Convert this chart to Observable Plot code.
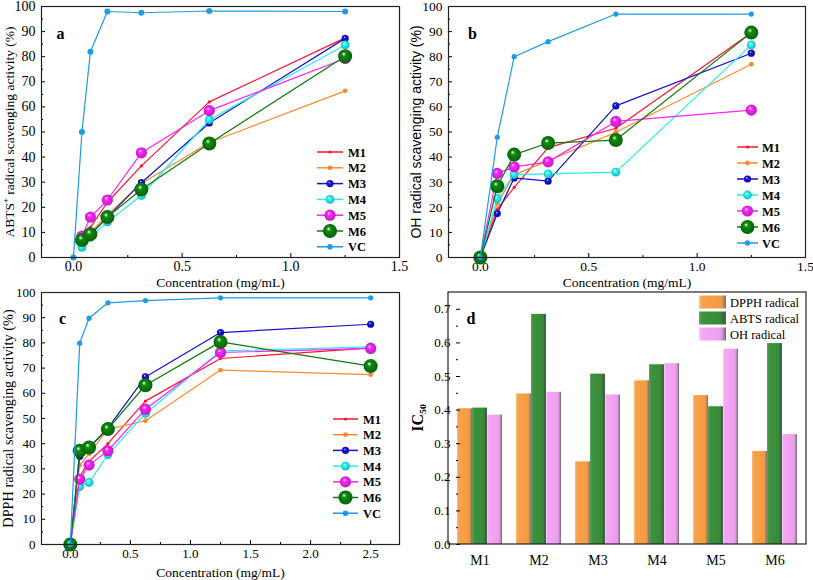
<!DOCTYPE html>
<html><head><meta charset="utf-8">
<script src="https://cdn.jsdelivr.net/npm/d3@7"></script>
<script src="https://cdn.jsdelivr.net/npm/@observablehq/plot@0.6"></script>
<style>
body{margin:0;background:#fff;}
#root{position:relative;width:813px;height:580px;overflow:hidden;background:#fff;}
.panel{position:absolute;}
</style></head><body>
<svg width="0" height="0" style="position:absolute"><defs id="defs"></defs></svg>
<div id="root"></div>
<script>
const serif = "'Liberation Serif', 'Times New Roman', serif";
const sans = "'Liberation Sans', Arial, sans-serif";

const seriesNames = ["M1","M2","M3","M4","M5","M6","VC"];

// Panel a: ABTS
const abtsConc = [0.039, 0.078, 0.156, 0.3125, 0.625, 1.25];
const abtsVcConc = [0, 0.039, 0.078, 0.156, 0.3125, 0.625, 1.25];
const abtsM1 = [10, 12, 22, 36.5, 62, 87.5];
const abtsM2 = [6, 10, 17, 29.5, 45.8, 66.4];
const abtsM3 = [5.5, 9, 16, 29.8, 53.6, 87.3];
const abtsM4 = [4, 8, 14.2, 24.7, 54.9, 84.7];
const abtsM5 = [8.5, 16.1, 22.9, 41.7, 58.5, 79.3];
const abtsM6 = [7, 9.3, 16.1, 27.1, 45.4, 80.2];
const abtsVC = [0, 50, 82, 98, 97.5, 98.2, 98];

// Panel b: OH
const ohConc = [0, 0.078, 0.156, 0.3125, 0.625, 1.25];
const ohM1 = [0, 19.3, 27.9, 43.8, 51.5, 89.5];
const ohM2 = [0, 21.5, 33, 38.5, 49.9, 77];
const ohM3 = [0, 17.5, 31.7, 30.4, 60.4, 81.4];
const ohM4 = [0, 23.5, 33.1, 33.3, 34, 84.7];
const ohM5 = [0, 33.5, 36.1, 38.1, 54.2, 58.7];
const ohM6 = [0, 28.4, 41, 45.6, 46.8, 89.6];
const ohVC = [0, 47.9, 80, 86, 97, 97];

// Panel c: DPPH
const dpphConc = [0, 0.078, 0.156, 0.3125, 0.625, 1.25, 2.5];
const dpphM1 = [0, 27, 33, 40, 56.9, 73.8, 78];
const dpphM2 = [0, 31.5, 36, 45.8, 49.1, 69.2, 67.4];
const dpphM3 = [0, 35, 38.5, 46.2, 66.5, 84.1, 87.4];
const dpphM4 = [0, 23, 24.6, 35.7, 52, 76.8, 78.4];
const dpphM5 = [0, 25.9, 31.5, 37.2, 53.7, 76.2, 77.8];
const dpphM6 = [0, 37.2, 38.5, 45.8, 63.2, 80.4, 70.8];
const dpphVC = [0, 79.9, 89.8, 95.9, 96.8, 97.9, 97.9];

// Panel d: IC50
const samples = ["M1","M2","M3","M4","M5","M6"];
const radicals = ["DPPH radical","ABTS radical","OH radical"];
const icDPPH = [0.404, 0.448, 0.246, 0.487, 0.443, 0.277];
const icABTS = [0.406, 0.685, 0.507, 0.535, 0.41, 0.598];
const icOH = [0.385, 0.453, 0.445, 0.538, 0.581, 0.327];

const style = {
  M1: {color:"#ff1430", r:1.6, sphere:false},
  M2: {color:"#ff8a30", r:2.4, sphere:false},
  M3: {color:"#1212c8", r:3.6, sphere:true},
  M4: {color:"#22eeee", r:4.4, sphere:true},
  M5: {color:"#ff22ff", r:5.6, sphere:true},
  M6: {color:"#0c7a0c", r:7, sphere:true},
  VC: {color:"#1e9be8", r:2.8, sphere:false}
};
const barStyle = {
  "DPPH radical": ["#fdc27a","#f7a24c","#f59a40","#c9895a","#707070"],
  "ABTS radical": ["#62aa62","#3e913e","#388a38","#33683f","#5a5a5a"],
  "OH radical":   ["#fbc8fb","#f3a8f3","#ef9def","#b48cb4","#6a6a6a"]
};

// gradients
const defs = d3.select("#defs");
for (const n of seriesNames) {
  const c = style[n].color;
  const g = defs.append("radialGradient").attr("id","sph-"+n)
    .attr("cx","50%").attr("cy","50%").attr("r","55%").attr("fx","38%").attr("fy","32%");
  g.append("stop").attr("offset","0%").attr("stop-color","#ffffff");
  g.append("stop").attr("offset","28%").attr("stop-color", d3.color(c).brighter(0.4).formatHex());
  g.append("stop").attr("offset","100%").attr("stop-color", d3.color(c).darker(0.9).formatHex());
}
radicals.forEach((r,i)=>{
  const s = barStyle[r];
  const g = defs.append("linearGradient").attr("id","bar"+i).attr("x1","0%").attr("x2","100%").attr("y1","0%").attr("y2","0%");
  [[0,s[0]],[0.12,s[1]],[0.8,s[2]],[0.9,s[3]],[1,s[4]]].forEach(([o,c])=>g.append("stop").attr("offset",o).attr("stop-color",c));
});
const fillOf = n => style[n].sphere ? `url(#sph-${n})` : style[n].color;

const root = document.getElementById("root");
function place(el, left, top) {
  const d = document.createElement("div");
  d.className = "panel"; d.style.left = left+"px"; d.style.top = top+"px";
  d.appendChild(el); root.appendChild(d);
}

function addLegend(svg, x0, x1, xt, y0, dy, fs) {
  const g = d3.select(svg).append("g");
  seriesNames.forEach((n,i)=>{
    const y = y0 + i*dy, st = style[n];
    g.append("line").attr("x1",x0).attr("x2",x1).attr("y1",y).attr("y2",y)
      .attr("stroke",st.color).attr("stroke-width",1.5);
    g.append("circle").attr("cx",(x0+x1)/2).attr("cy",y).attr("r",st.r).attr("fill",fillOf(n));
    g.append("text").attr("x",xt).attr("y",y).attr("dy","0.36em").attr("font-weight","bold")
      .attr("text-anchor","start")
      .attr("font-size",fs).attr("font-family",serif).attr("fill","#000").text(n);
  });
}

function linePanel(cfg) {
  const marks = [];
  for (const s of cfg.series) {
    const rows = s.x.map((x,i)=>({x, y:s.y[i]}));
    const st = style[s.name];
    marks.push(Plot.line(rows, {x:"x", y:"y", stroke: st.color, strokeWidth: 1.2}));
    marks.push(Plot.dot(rows, {x:"x", y:"y", r: (s.name==="VC" && cfg.vcR) ? cfg.vcR : st.r, fill: fillOf(s.name), stroke:"none"}));
  }
  const svg = Plot.plot({
    width: cfg.width, height: cfg.height,
    marginLeft: cfg.m[0], marginRight: cfg.m[1], marginTop: cfg.m[2], marginBottom: cfg.m[3],
    style: {fontFamily: serif, fontSize: cfg.tickFont+"px", background:"transparent", overflow:"visible", color:"#000"},
    x: {domain: cfg.xDomain},
    y: {domain: [0,100]},
    marks: [
      Plot.axisX({ticks: cfg.xTicks, tickFormat: d3.format(".1f"), tickSize:-4, tickPadding: cfg.xPad, label:null, fontSize: cfg.tickFont}),
      Plot.axisX({ticks: cfg.xMinor, tickFormat: ()=>"", tickSize:-2, label:null}),
      Plot.axisY({ticks: d3.range(0,101,10), tickSize:-4, tickPadding:10, label:null, fontSize: cfg.tickFont}),
      Plot.axisY({ticks: d3.range(5,100,10), tickFormat: ()=>"", tickSize:-2, label:null}),
      ...marks,
      Plot.frame({stroke:"#222", strokeWidth:1.2}),
      Plot.text([cfg.xlabel], {text:d=>d, frameAnchor:"bottom", lineAnchor:"middle", textAnchor:"middle", dy: cfg.xlabDy, fontSize: 13.5, fontFamily: serif}),
      Plot.text([cfg.ylabel], {text:d=>d, frameAnchor:"left", rotate:-90, textAnchor:"middle", lineAnchor:"middle", dx: cfg.ylabDx, fontSize: cfg.ylabFont, fontFamily: cfg.ylabFamily}),
      Plot.text([cfg.letter], {text:d=>d, frameAnchor:"top-left", textAnchor:"middle", lineAnchor:"middle", dx: cfg.letterPos[0], dy: cfg.letterPos[1], fontSize: 16, fontWeight:"bold", fontFamily: serif})
    ]
  });
  return svg;
}

// Panel a
const svgA = linePanel({
  width:406, height:290, m:[41,7,6,33], xDomain:[-0.147,1.5], xTicks:[0,0.5,1,1.5], xMinor:[0.25,0.75,1.25],
  tickFont:14, xPad:8, xlabDy:25, vcR:3,
  xlabel:"Concentration (mg/mL)", ylabel:"ABTS⁺ radical scavenging activity (%)", ylabDx:-32, ylabFont:13.5, ylabFamily:serif,
  letter:"a", letterPos:[19,27],
  series:[
    {name:"M1", x:abtsConc, y:abtsM1},{name:"M2", x:abtsConc, y:abtsM2},{name:"M3", x:abtsConc, y:abtsM3},
    {name:"M4", x:abtsConc, y:abtsM4},{name:"M5", x:abtsConc, y:abtsM5},{name:"M6", x:abtsConc, y:abtsM6},
    {name:"VC", x:abtsVcConc, y:abtsVC}
  ]
});
addLegend(svgA, 317, 343, 348, 152, 15.8, 12.5);
place(svgA, 0, 0);

// Panel b
const svgB = linePanel({
  width:413, height:290, m:[48,8,6,33], xDomain:[-0.147,1.5], xTicks:[0,0.5,1,1.5], xMinor:[0.25,0.75,1.25],
  tickFont:13.5, xPad:8, xlabDy:25, vcR:2.6,
  xlabel:"Concentration (mg/mL)", ylabel:"OH radical scavenging activity (%)", ylabDx:-31.5, ylabFont:14, ylabFamily:sans,
  letter:"b", letterPos:[24,27],
  series:[
    {name:"M1", x:ohConc, y:ohM1},{name:"M2", x:ohConc, y:ohM2},{name:"M3", x:ohConc, y:ohM3},
    {name:"M4", x:ohConc, y:ohM4},{name:"M5", x:ohConc, y:ohM5},{name:"M6", x:ohConc, y:ohM6},
    {name:"VC", x:ohConc, y:ohVC}
  ]
});
addLegend(svgB, 337, 358, 362, 147, 16, 12.5);
place(svgB, 400, 0);

// Panel c
const svgC = linePanel({
  width:406, height:295, m:[41,7,7,36], xDomain:[-0.24,2.74], xTicks:[0,0.5,1,1.5,2,2.5], xMinor:[0.25,0.75,1.25,1.75,2.25],
  tickFont:13, xPad:8, xlabDy:28, vcR:2.6,
  xlabel:"Concentration (mg/mL)", ylabel:"DPPH radical scavenging activity (%)", ylabDx:-33, ylabFont:14.3, ylabFamily:serif,
  letter:"c", letterPos:[21,26],
  series:[
    {name:"M1", x:dpphConc, y:dpphM1},{name:"M2", x:dpphConc, y:dpphM2},{name:"M3", x:dpphConc, y:dpphM3},
    {name:"M4", x:dpphConc, y:dpphM4},{name:"M5", x:dpphConc, y:dpphM5},{name:"M6", x:dpphConc, y:dpphM6},
    {name:"VC", x:dpphConc, y:dpphVC}
  ]
});
addLegend(svgC, 333, 358, 363, 134, 15.7, 12.5);
place(svgC, 0, 285);

// Panel d
const icRows = [];
samples.forEach((s,i)=>{
  icRows.push({sample:s, radical:radicals[0], value:icDPPH[i]});
  icRows.push({sample:s, radical:radicals[1], value:icABTS[i]});
  icRows.push({sample:s, radical:radicals[2], value:icOH[i]});
});
const dW = 413, dH = 295, dM = [48,7,7,36];
const svgD = Plot.plot({
  width:dW, height:dH, marginLeft:dM[0], marginRight:dM[1], marginTop:dM[2], marginBottom:dM[3],
  style:{fontFamily: serif, fontSize:"13px", background:"transparent", overflow:"visible", color:"#000"},
  fx:{domain:samples, paddingInner:0.2, paddingOuter:0.1, label:null},
  x:{domain:radicals, padding:0, axis:null},
  y:{domain:[0,0.75]},
  marks:[
    ...radicals.map((r,i)=>Plot.barY(icRows.filter(d=>d.radical===r), {fx:"sample", x:"radical", y:"value", fill:`url(#bar${i})`})),
    Plot.axisFx({anchor:"bottom", tickSize:0, tickPadding:11, fontSize:14, label:null}),
    Plot.axisY({ticks:d3.range(0,0.71,0.1), tickFormat:d3.format(".1f"), tickSize:-4, tickPadding:10, label:null, fontSize:13}),
    Plot.axisY({ticks:d3.range(0.05,0.75,0.1), tickFormat:()=>"", tickSize:-2, label:null})
  ]
});
{
  const g = d3.select(svgD).append("g");
  const x0 = dM[0], y0 = dM[2], x1 = dW-dM[1], y1 = dH-dM[3];
  g.append("rect").attr("x",x0).attr("y",y0).attr("width",x1-x0).attr("height",y1-y0)
    .attr("fill","none").attr("stroke","#222").attr("stroke-width",1.2);
  g.append("text").attr("x",71).attr("y",33).attr("dy","0.35em").attr("text-anchor","middle").attr("font-size",16).attr("font-weight","bold").attr("font-family",serif).text("d");
  g.append("text").attr("transform",`translate(${17.5},${(y0+y1)/2}) rotate(-90)`).attr("text-anchor","middle").attr("dy","0.35em")
    .attr("font-size",16).attr("font-weight","bold").attr("font-family",serif).text("IC₅₀");
  radicals.forEach((r,i)=>{
    const y = 17 + i*16;
    g.append("rect").attr("x",299).attr("y",y-6.5).attr("width",27).attr("height",13).attr("fill",`url(#bar${i})`);
    g.append("text").attr("x",330).attr("y",y).attr("dy","0.36em").attr("text-anchor","start").attr("font-size",12.5).attr("font-family",serif).text(r);
  });
}
place(svgD, 400, 285);
</script>
</body></html>
